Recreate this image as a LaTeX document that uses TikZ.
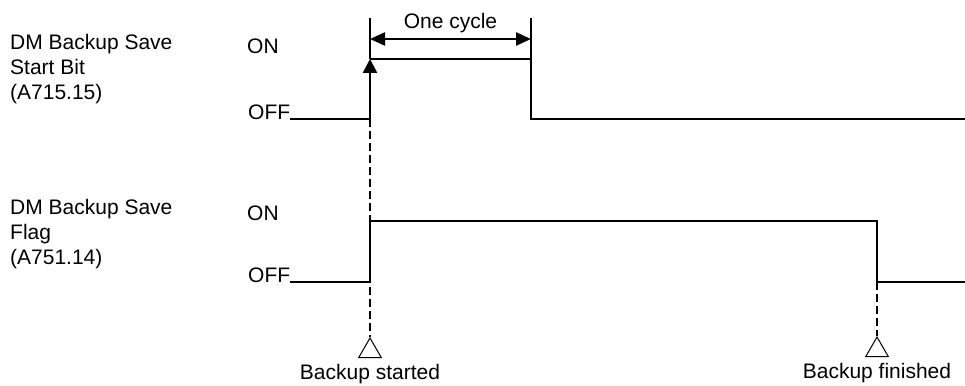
\documentclass[tikz,border=0pt]{standalone}
\usepackage{fontspec}
\setmainfont{Liberation Sans}
\usetikzlibrary{arrows.meta, positioning, shapes.geometric}

\begin{document}
\begin{tikzpicture}[
            x=1pt, y=-1pt,
            txt/.style={font=\fontsize{21}{25}\selectfont, inner sep=0pt},
            signal/.style={line width=2.6pt},
            guide/.style={line width=1.8pt},
            dashline/.style={line width=2.6pt, dash pattern=on 8pt off 4pt},
            dim/.style={line width=2.4pt, {Triangle[length=15pt,width=13pt]}-{Triangle[length=15pt,width=13pt]}},
            rise/.style={line width=2.6pt, -{Triangle[length=14pt,width=14pt]}},
            marker/.style={regular polygon, regular polygon sides=3, draw, fill=white, line width=1pt, minimum size=26pt, inner sep=0pt}
            ]
            \useasboundingbox (0,0) rectangle (965,385);

            % signal names
            \node (startname) [txt, align=left, anchor=north west] at (10,34.5) {DM Backup Save\\Start Bit\\(A715.15)};
            \node (flagname) [txt, align=left, anchor=north west] at (10,199.5) {DM Backup Save\\Flag\\(A751.14)};

            % levels
            \node (on1) [txt, anchor=base west] at (247,54) {ON};
            \node (off1) [txt, anchor=base west] at (248,119) {OFF};
            \node (on2) [txt, anchor=base west] at (247,220) {ON};
            \node (off2) [txt, anchor=base west] at (248,282) {OFF};

            % edges
            \coordinate (up1) at (370,119);
            \coordinate (hi1) at (370,59);
            \coordinate (dn1) at (531,59);
            \coordinate (lo1) at (531,119);
            \coordinate (end1) at (965,119);
            \coordinate (up2) at (370,282);
            \coordinate (hi2) at (370,221);
            \coordinate (dn2) at (877,221);
            \coordinate (lo2) at (877,282);
            \coordinate (end2) at (965,282);
            \coordinate (ext1) at (370,18);
            \coordinate (ext2) at (531,18);

            % start bit
            \draw [signal] (off1.base east) -- (up1);
            \draw [rise] (up1) -- (hi1);
            \draw [signal] (hi1) -- (dn1) -- (lo1) -- (end1);

            % one cycle
            \draw [guide] (ext1) -- (hi1);
            \draw [guide] (ext2) -- (dn1);
            \draw [dim] (370,39) -- node[txt, above=5pt] {One cycle} (531,39);

            % flag
            \draw [signal] (off2.base east) -- (up2) -- (hi2) -- (dn2) -- (lo2) -- (end2);

            % start / finish markers
            \node (mkstart) [marker, anchor=corner 1] at (370,337) {};
            \node (mkend) [marker, anchor=corner 1] at (877,336) {};
            \draw [dashline] (up1) -- (mkstart.corner 1);
            \draw [dashline] (lo2) -- (mkend.corner 1);

            \node (started) [txt, below=6pt of mkstart] {Backup started};
            \node (finished) [txt, below=6pt of mkend] {Backup finished};
        \end{tikzpicture}
\end{document}
